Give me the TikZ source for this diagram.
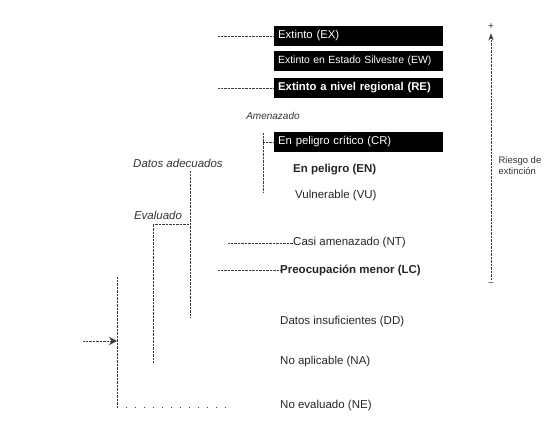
\documentclass[tikz,border=0pt]{standalone}
\usepackage{fontspec}
\setmainfont{Liberation Sans}
\usepackage{tikz}
\usetikzlibrary{arrows.meta, positioning}
\definecolor{redlistgray}{RGB}{60,60,60}

\begin{document}
\begin{tikzpicture}[
  x=1pt, y=-1pt,
  catbox/.style={
    rectangle, fill=black, text=white,
    anchor=west, text width=161pt, align=left,
    inner xsep=4pt, minimum height=20pt,
    font=\fontsize{11.3}{12}\selectfont
  },
  cat/.style={anchor=west, inner sep=0pt, text=black!85,
    font=\fontsize{11.5}{13}\selectfont},
  group/.style={font=\fontsize{11.5}{13}\selectfont\itshape, text=black!80},
  link/.style={densely dotted, redlistgray, thin},
  loose/.style={dotted, redlistgray, thin, dash pattern=on 1pt off 8pt},
  riskarrow/.style={-{Stealth[length=7pt]}, densely dotted, redlistgray, thin}
]
\useasboundingbox (0,0) rectangle (547,426);

% categories
\node[catbox] (EX) at (274,36) {Extinto (EX)};
\node[catbox, font=\fontsize{10.4}{12}\selectfont] (EW) at (274,61)
  {Extinto en Estado Silvestre (EW)};
\node[catbox, font=\fontsize{11.3}{12}\selectfont\bfseries] (RE) at (274,88)
  {Extinto a nivel regional (RE)};
\node[catbox] (CR) at (274,142) {En peligro crítico (CR)};

\node[cat, font=\fontsize{11.5}{13}\selectfont\bfseries] (EN) at (293,170) {En peligro (EN)};
\node[cat] (VU) at (295,196) {Vulnerable (VU)};
\node[cat] (NT) at (293,243) {Casi amenazado (NT)};
\node[cat, font=\fontsize{11.5}{13}\selectfont\bfseries] (LC) at (280,270)
  {Preocupación menor (LC)};
\node[cat] (DD) at (280,322) {Datos insuficientes (DD)};
\node[cat] (NA) at (280,362) {No aplicable (NA)};
\node[cat] (NE) at (280,406) {No evaluado (NE)};

% groups
\node[group, font=\fontsize{10}{11}\selectfont\itshape] (threat) at (273,116) {Amenazado};
\node[group] (adequate) at (178,163) {Datos adecuados};
\node[group] (evaluated) at (158,215) {Evaluado};

\coordinate (exIn)  at (218,36);
\coordinate (reIn)  at (218,88);
\coordinate (ntIn)  at (228,243);
\coordinate (lcIn)  at (218,270);
\coordinate (thTop) at (263,133);
\coordinate (thBot) at (263,192);
\coordinate (adTop) at (190,171);
\coordinate (adBot) at (190,318);
\coordinate (evTop) at (153,224);
\coordinate (evBot) at (153,363);
\coordinate (allTop) at (117,277);
\coordinate (allBot) at (117,407);
\coordinate (allIn) at (83,341);

\foreach \from/\to in {exIn/EX,reIn/RE,ntIn/NT,lcIn/LC}
  \draw[link] (\from) -- (\to.west);

\draw[link] (thTop) -- (thBot);
\draw[link] (thTop |- CR.west) -- (CR.west);
\draw[link] (adTop) -- (adBot);
\draw[link] (evTop -| adTop) -- (evTop) -- (evBot);
\draw[link] (allTop) -- (allBot);
\draw[loose] (allBot) -- ([xshift=-50pt]NE.west |- allBot);
\draw[-{Stealth[length=8pt,width=8pt]}, densely dotted, redlistgray] (allIn) -- (allIn -| allTop);

% risk axis
\node[font=\fontsize{10}{11}\selectfont, text=black!80] (more) at (491,27) {+};
\node[font=\fontsize{10}{11}\selectfont, text=black!80] (less) at (491,285) {−};
\draw[riskarrow] (less) -- (more);
\node[font=\fontsize{9.5}{11}\selectfont, text=black!80, align=left,
      anchor=west] (risk) at (495,166) {Riesgo de\\extinción};
\end{tikzpicture}
\end{document}
